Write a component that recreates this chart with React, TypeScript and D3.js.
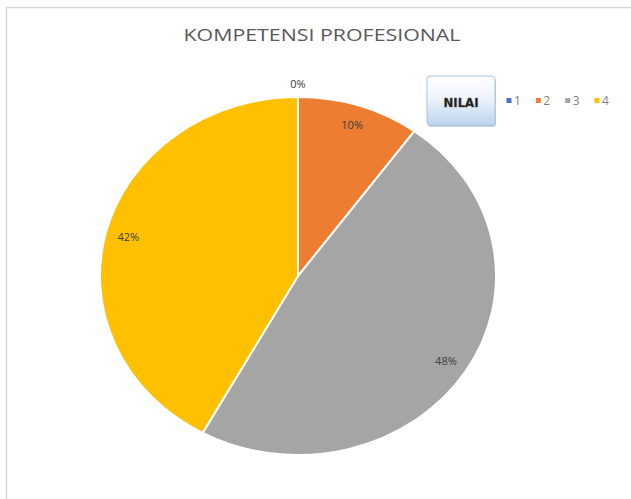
import React from "react";
import * as d3 from "d3";

const categories = ["1", "2", "3", "4"];
const values = [0, 10, 48, 42];
const labels = ["0%", "10%", "48%", "42%"];
const colors = ["#4472C4", "#ED7D31", "#A5A5A5", "#FFC000"];
const title = "KOMPETENSI PROFESIONAL";
const buttonText = "NILAI";

export default function App() {
  const W = 631, H = 499;
  const cx = 298, cy = 276;
  const ry = 179, rx = 198;
  const sx = rx / ry;
  const pie = d3.pie<number>().sort(null).value((d) => d)(values);
  const arc = d3.arc<d3.PieArcDatum<number>>().innerRadius(0).outerRadius(ry);
  const labelArc = d3.arc<d3.PieArcDatum<number>>().innerRadius(ry * 0.885).outerRadius(ry * 0.885);
  const outerArc = d3.arc<d3.PieArcDatum<number>>().innerRadius(ry * 1.07).outerRadius(ry * 1.07);
  const legendX = d3.scalePoint<string>().domain(categories).range([509, 597]);

  return (
    <svg width={W} height={H} style={{ position: "absolute", left: 0, top: 0 }} fontFamily="'Open Sans', sans-serif">
      <defs>
        <linearGradient id="btn" x1="0" y1="0" x2="0" y2="1">
          <stop offset="0" stopColor="#ffffff" />
          <stop offset="0.45" stopColor="#eef4fb" />
          <stop offset="1" stopColor="#bcd5ee" />
        </linearGradient>
      </defs>
      <rect x={0} y={0} width={W} height={H} fill="#fff" />
      <path d={`M6.5,${H} V7.5 H${W}`} fill="none" stroke="#d9d9d9" strokeWidth={1.5} />
      <text x={322} y={41} textAnchor="middle" fontSize={16.5} fill="#595959" textLength={277} lengthAdjust="spacingAndGlyphs">{title}</text>
      <g transform={`translate(${cx},${cy}) scale(${sx},1)`}>
        {pie.map((p, i) => (
          <path key={i} d={arc(p) || ""} fill={colors[i]} stroke="#fff" strokeWidth={2} vectorEffect="non-scaling-stroke" />
        ))}
      </g>
      {pie.map((p, i) => {
        const c = p.value === 0 ? outerArc.centroid(p) : labelArc.centroid(p);
        return (
          <text key={i} x={cx + c[0] * sx} y={cy + c[1] + 4} textAnchor="middle" fontSize={11} fill="#404040">{labels[i]}</text>
        );
      })}
      <rect x={428} y={79} width={68} height={48} rx={3} fill="#9fb3c8" opacity={0.6} />
      <rect x={427} y={76} width={68} height={49} rx={3} fill="url(#btn)" stroke="#a8c3df" strokeWidth={1} />
      <text x={461} y={107} textAnchor="middle" fontSize={13} fontWeight="bold" fill="#1a1a1a" fontFamily="'DejaVu Sans Condensed', 'Liberation Sans Narrow', sans-serif" textLength={35} lengthAdjust="spacingAndGlyphs" stroke="#555" strokeWidth={0.4}>{buttonText}</text>
      {categories.map((c, i) => (
        <g key={c}>
          <rect x={legendX(c)! - 2.5} y={98} width={5} height={5} fill={colors[i]} />
          <text x={legendX(c)! + 5} y={105} fontSize={12} fill="#7f7f7f">{c}</text>
        </g>
      ))}
    </svg>
  );
}
